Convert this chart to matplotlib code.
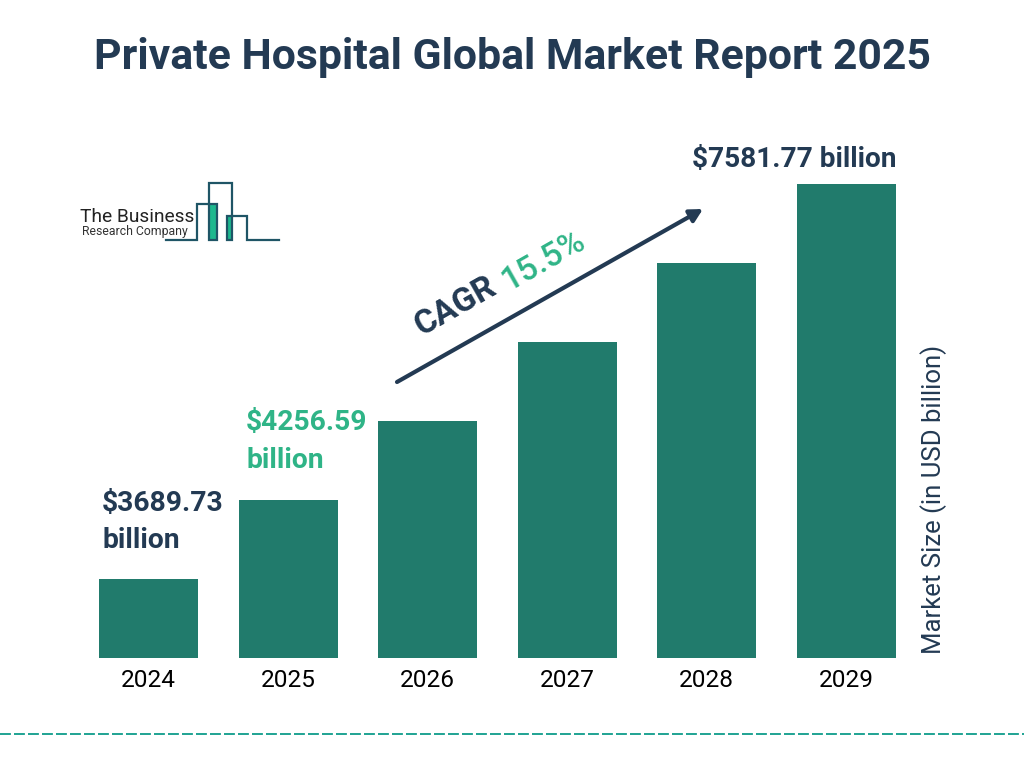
import matplotlib
matplotlib.use('Agg')
import matplotlib.pyplot as plt
from matplotlib.patches import Rectangle

plt.rcParams['font.family'] = ['Roboto', 'DejaVu Sans']

years = ['2024', '2025', '2026', '2027', '2028', '2029']
# the picture draws equal steps, not the real dollar values
bar_heights = [1, 2, 3, 4, 5, 6]

title = 'Private Hospital Global Market Report 2025'
label_2024 = '$3689.73\nbillion'
label_2025 = '$4256.59\nbillion'
label_2029 = '$7581.77 billion'
ylabel = 'Market Size (in USD billion)'

navy = '#233A53'
bar_green = '#217B6C'
light_green = '#2FB487'
W, H = 1024, 768

fig = plt.figure(figsize=(W / 100, H / 100), dpi=100, facecolor='white')

# bars
ax = fig.add_axes([79 / W, (H - 658) / H, 837 / W, 490 / H])
ax.bar(range(len(years)), bar_heights, width=0.712, color=bar_green)
ax.set_xlim(-0.5, 5.5)
ax.set_ylim(0, 490 / 79)
ax.set_xticks(range(len(years)))
ax.set_xticklabels(years, fontsize=17.6, color='black')
ax.tick_params(axis='x', length=0, pad=8)
ax.set_yticks([])
for s in ax.spines.values():
    s.set_visible(False)
ax.patch.set_alpha(0)

# overlay in pixels for the text, arrow, logo
ov = fig.add_axes([0, 0, 1, 1], zorder=5)
ov.set_xlim(0, W)
ov.set_ylim(H, 0)
ov.axis('off')

ov.text(512, 58, title, ha='center', va='center', fontsize=30.75, fontweight='bold', color=navy)

ov.text(102, 522, label_2024, ha='left', va='center', fontsize=20.3, fontweight='bold',
        color=navy, linespacing=1.5)
ov.text(246, 441.5, label_2025, ha='left', va='center', fontsize=20.3, fontweight='bold',
        color=light_green, linespacing=1.5)
ov.text(896, 160, label_2029, ha='right', va='center', fontsize=20.2, fontweight='bold', color=navy)

ov.text(934, 499, ylabel, rotation=90, ha='center', va='center', fontsize=18.5, color=navy)

# cagr arrow
ov.annotate('', xy=(703, 209), xytext=(397, 382),
            arrowprops=dict(arrowstyle='-|>,head_length=0.75,head_width=0.4', color=navy, lw=3,
                            shrinkA=0, shrinkB=0))
ov.text(456, 306, 'CAGR', rotation=29.5, rotation_mode='anchor', ha='center', va='center',
        fontsize=24, fontweight='bold', color=navy)
ov.text(543, 261, '15.5%', rotation=29.5, rotation_mode='anchor', ha='center', va='center',
        fontsize=24, fontweight='medium', color=light_green)

# logo
logo_x = [166, 197, 197, 217, 217, 208.7, 208.7, 232, 232, 227, 227, 247, 247, 279]
logo_y = [239.5, 239.5, 204, 204, 239.5, 239.5, 182.7, 182.7, 239.5, 239.5, 216, 216, 239.5, 239.5]
ov.add_patch(Rectangle((208.7, 204), 8.3, 35.5, color='#1DB88E', lw=0))
ov.add_patch(Rectangle((227, 216), 5, 23.5, color='#1DB88E', lw=0))
ov.plot(logo_x, logo_y, color='#1F5566', lw=1.6, solid_joinstyle='miter')
ov.text(194, 217, 'The Business', ha='right', va='center', fontsize=13.8, color='#222222')
ov.text(188, 231, 'Research Company', ha='right', va='center', fontsize=8.8, color='#333333')

# dashed line at the bottom
ov.plot([0, W], [734, 734], color='#1FA393', lw=1.4, linestyle=(0, (5.6, 1.6)))

fig.savefig('out.png', dpi=100)
